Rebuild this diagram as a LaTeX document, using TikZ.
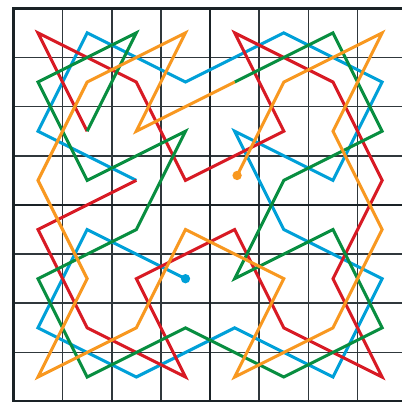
\documentclass[tikz,border=0pt]{standalone}
\definecolor{tourblue}{RGB}{0,160,216}
\definecolor{tourred}{RGB}{216,26,36}
\definecolor{tourgreen}{RGB}{8,142,64}
\definecolor{tourorange}{RGB}{248,152,32}
\definecolor{gridgray}{RGB}{48,56,60}
\definecolor{griddark}{RGB}{26,34,38}
\begin{document}
\begin{tikzpicture}[x=1cm, y=-1cm,
    thinline/.style={gridgray, line width=1pt},
    thickline/.style={griddark, line width=1.6pt},
    tour/.style={line width=1.75pt, line join=miter}]
    \useasboundingbox (-0.273,-0.169) rectangle (7.904,7.988);
    \clip (-0.273,-0.169) rectangle (7.904,7.988);
    \fill[white] (-0.273,-0.169) rectangle (7.904,7.988);
    \draw[thinline] (0,0) grid (8,8);
    \draw[thickline] (4,0) -- (4,8) (0,4) -- (8,4);
    \draw[thickline, line width=1.9pt] (0,0) rectangle (8,8);
    \draw[tour, tourblue] (3.5,5.5) -- (1.5,4.5) -- (0.5,6.5) -- (2.5,7.5) -- (4.5,6.5) -- (6.5,7.5) -- (7.5,5.5) -- (5.5,4.5) -- (4.5,2.5) -- (6.5,3.5) -- (7.5,1.5) -- (5.5,0.5) -- (3.5,1.5) -- (1.5,0.5) -- (0.5,2.5) -- (2.5,3.5);
    \draw[tour, tourred] (2.5,3.5) -- (0.5,4.5) -- (1.5,6.5) -- (3.5,7.5) -- (2.5,5.5) -- (4.5,4.5) -- (5.5,6.5) -- (7.5,7.5) -- (6.5,5.5) -- (7.5,3.5) -- (6.5,1.5) -- (4.5,0.5) -- (5.5,2.5) -- (3.5,3.5) -- (2.5,1.5) -- (0.5,0.5) -- (1.5,2.5);
    \draw[tour, tourgreen] (1.5,2.5) -- (2.5,0.5) -- (0.5,1.5) -- (1.5,3.5) -- (3.5,2.5) -- (2.5,4.5) -- (0.5,5.5) -- (1.5,7.5) -- (3.5,6.5) -- (5.5,7.5) -- (7.5,6.5) -- (6.5,4.5) -- (4.5,5.5) -- (5.5,3.5) -- (7.5,2.5) -- (6.5,0.5) -- (4.5,1.5);
    \draw[tour, tourorange] (4.5,1.5) -- (2.5,2.5) -- (3.5,0.5) -- (1.5,1.5) -- (0.5,3.5) -- (1.5,5.5) -- (0.5,7.5) -- (2.5,6.5) -- (3.5,4.5) -- (5.5,5.5) -- (4.5,7.5) -- (6.5,6.5) -- (7.5,4.5) -- (6.5,2.5) -- (7.5,0.5) -- (5.5,1.5) -- (4.55,3.4);
    \fill[tourblue] (3.5,5.5) circle (0.095);
    \fill[tourorange] (4.55,3.4) circle (0.095);
\end{tikzpicture}
\end{document}
